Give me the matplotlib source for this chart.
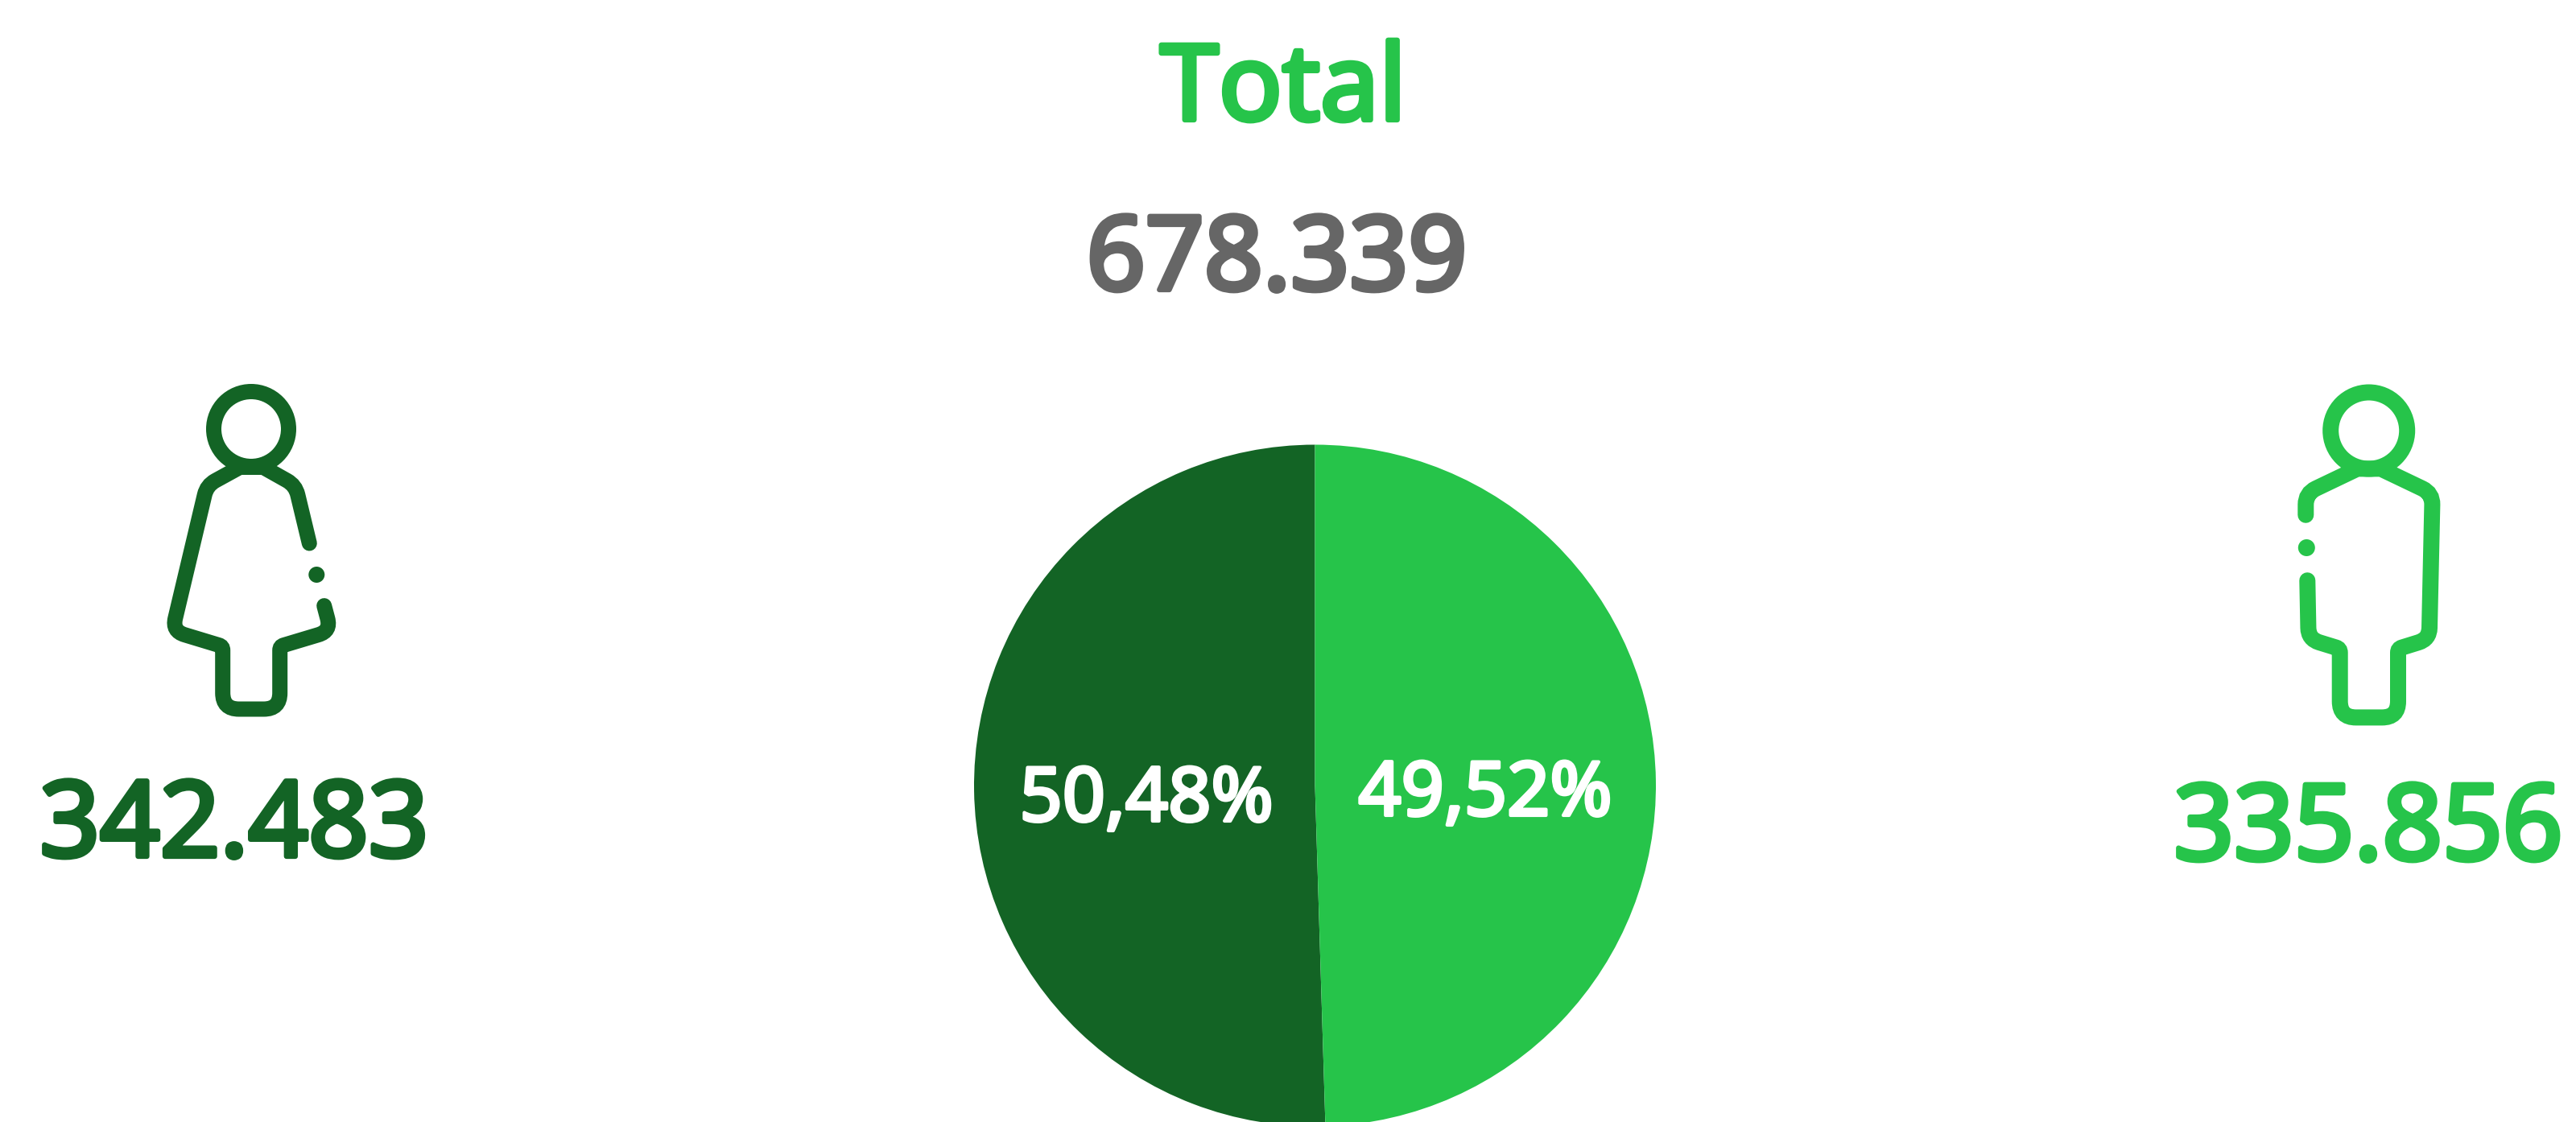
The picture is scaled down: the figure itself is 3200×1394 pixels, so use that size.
import matplotlib
matplotlib.use("Agg")
import matplotlib.pyplot as plt
import matplotlib.patheffects as pe
from matplotlib.patches import Circle, PathPatch
from matplotlib.path import Path

W, H = 3200, 1394

DARK = "#136425"
LIGHT = "#26C44A"
GREY = "#666666"

FONT = ["Noto Sans", "Liberation Sans", "DejaVu Sans"]

groups = ["Mujeres", "Hombres"]
values = [342483, 335856]
value_labels = ["342.483", "335.856"]
pct_labels = ["50,48%", "49,52%"]
total_label = "678.339"


def rounded_path(points):
    # points are (x, y, corner radius), y measured from the top of the picture
    pts = [(x, H - y, r) for x, y, r in points]
    verts = [pts[0][:2]]
    codes = [Path.MOVETO]
    for i in range(1, len(pts) - 1):
        px, py, _ = pts[i - 1]
        cx, cy, r = pts[i]
        nx, ny, _ = pts[i + 1]
        d1 = ((cx - px) ** 2 + (cy - py) ** 2) ** 0.5
        d2 = ((nx - cx) ** 2 + (ny - cy) ** 2) ** 0.5
        if r == 0:
            verts.append((cx, cy))
            codes.append(Path.LINETO)
            continue
        r = min(r, d1 * 0.9, d2 * 0.9)
        verts += [(cx + (px - cx) * r / d1, cy + (py - cy) * r / d1), (cx, cy),
                  (cx + (nx - cx) * r / d2, cy + (ny - cy) * r / d2)]
        codes += [Path.LINETO, Path.CURVE3, Path.CURVE3]
    verts.append(pts[-1][:2])
    codes.append(Path.LINETO)
    return Path(verts, codes)


def draw_icon(ax, color, head, head_r, body, dot, lw_px):
    lw = lw_px * 72 / 100
    ax.add_patch(Circle((head[0], H - head[1]), head_r, fc="none", ec=color, lw=lw))
    ax.add_patch(PathPatch(rounded_path(body), fc="none", ec=color, lw=lw,
                           capstyle="round", joinstyle="miter"))
    ax.add_patch(Circle((dot[0], H - dot[1]), lw_px / 2 + 0.5, fc=color, ec="none"))


def put(ax, x, y, s, color, size, stroke):
    # Noto Sans has no bold face here, so thicken it with a stroke
    t = ax.text(x, H - y, s, color=color, fontsize=size, family=FONT,
                ha="center", va="baseline")
    t.set_path_effects([pe.withStroke(linewidth=stroke, foreground=color)])


fig = plt.figure(figsize=(W / 100, H / 100), dpi=100, facecolor="white")
ax = fig.add_axes([0, 0, 1, 1])

ax.pie(values, colors=[DARK, LIGHT], startangle=90, radius=423.5,
       center=(1633.5, H - 976), wedgeprops={"linewidth": 0})
ax.set_xlim(0, W)
ax.set_ylim(0, H)
ax.set_aspect("equal")
ax.axis("off")

# women icon
draw_icon(ax, DARK, (312, 533), 46.5,
          [(384.3, 675, 0), (367, 603, 12), (327, 580.5, 0), (298, 580.5, 0), (257, 603, 12),
           (214, 784, 16), (276.7, 803, 5), (276.7, 881, 20), (347.7, 881, 20),
           (347.7, 803, 5), (411, 784, 16), (402.7, 752.6, 0)],
          (393.3, 714), 19)

# men icon
draw_icon(ax, LIGHT, (2942.7, 535), 47.5,
          [(2864.3, 639.8, 0), (2864.3, 613, 14), (2928.3, 582.4, 0), (2957.7, 582.4, 0),
           (3021.7, 613, 14), (3017.7, 794, 14), (2979, 806, 5), (2979, 891.4, 20),
           (2906.7, 891.4, 20), (2906.7, 806, 5), (2867.7, 794, 14), (2866.3, 721.2, 0)],
          (2865.3, 680.5), 20)

put(ax, 1594, 149, "Total", LIGHT, 94, 4.5)
put(ax, 1586, 360, total_label, GREY, 92, 4.5)
put(ax, 291, 1064, value_labels[0], DARK, 94, 4.5)
put(ax, 2942, 1068, value_labels[1], LIGHT, 94, 4.5)
put(ax, 1424, 1020, pct_labels[0], "white", 67, 3)
put(ax, 1845, 1013, pct_labels[1], "white", 67, 3)

fig.savefig("out.png", dpi=100)
plt.close(fig)
